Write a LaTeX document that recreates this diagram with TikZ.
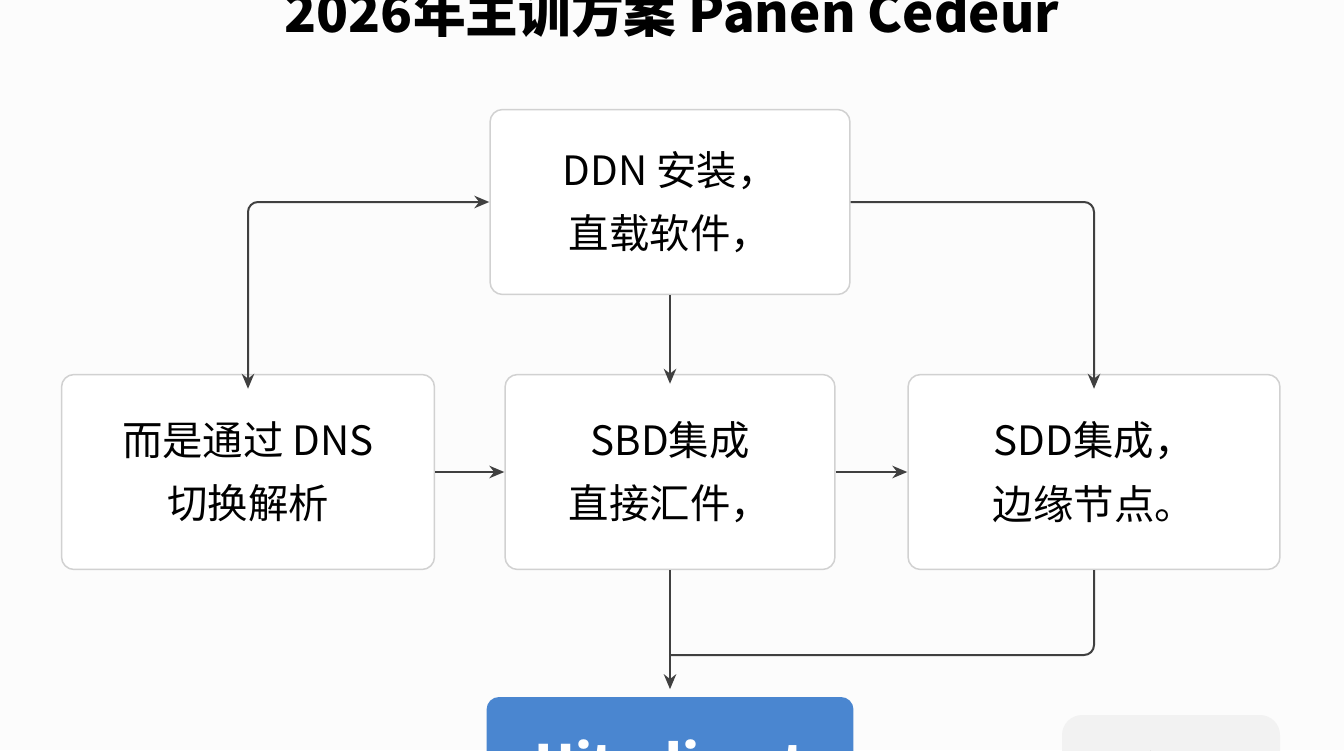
\documentclass[tikz,border=0pt]{standalone}
\usepackage{fontspec}
\setmainfont{Noto Sans CJK SC}
\usetikzlibrary{arrows.meta}
\definecolor{hitblue}{HTML}{4A86D0}
\tikzset{
  box/.style={draw=black!18, line width=0.03cm, rounded corners=0.25cm, fill=white, align=center, font=\fontsize{23}{36}\selectfont},
  link/.style={draw=black!75, line width=0.04cm, -{Stealth[length=0.3cm,width=0.25cm]}, rounded corners=0.2cm}
}
\begin{document}
\begin{tikzpicture}[x=0.02cm,y=-0.02cm]
\useasboundingbox (0,0) rectangle (1344,750);
\clip (0,0) rectangle (1344,750);
\fill [black!1] (0,0) rectangle (1344,750);

% title
\node (title) at (672,12) {\fontsize{30}{30}\selectfont\bfseries 2026年主训方案 Panen Cedeur};

% boxes
\node [box, minimum width=7.2cm, minimum height=3.7cm] (ddn) at (670,202) {DDN 安装，\\直载软件，};
\node [box, minimum width=7.46cm, minimum height=3.9cm] (dns) at (248,472) {而是通过 DNS\\切换解析};
\node [box, minimum width=6.6cm, minimum height=3.9cm] (sbd) at (670,472) {SBD集成\\直接汇件，};
\node [box, minimum width=7.44cm, minimum height=3.9cm] (sdd) at (1094,472) {SDD集成，\\边缘节点。};
\node [draw=none, fill=hitblue, rounded corners=0.25cm, minimum width=7.34cm, minimum height=2.6cm, text=white, font=\fontsize{30}{30}\selectfont\bfseries] (hit) at (670,762) {Hitodirect};
\node [draw=none, fill=black!5, rounded corners=0.4cm, minimum width=4.36cm, minimum height=2.2cm, font=\fontsize{23}{23}\selectfont] (way) at (1171,770) {方法};

% connectors
\draw [link, {Stealth[length=0.3cm,width=0.25cm]}-{Stealth[length=0.3cm,width=0.25cm]}] ([yshift=-0.3cm]dns.north) |- (ddn.west);
\draw [link] (ddn.east) -| ([yshift=-0.3cm]sdd.north);
\draw [link] (ddn.south) -- ([yshift=-0.2cm]sbd.north);
\draw [link] (dns.east) -- (sbd.west);
\draw [link] (sbd.east) -- (sdd.west);
\draw [link] (sbd.south) -- ([yshift=0.15cm]hit.north);
\coordinate (join) at (670,655);
\draw [link, -] (sdd.south) |- (join);
\end{tikzpicture}
\end{document}
